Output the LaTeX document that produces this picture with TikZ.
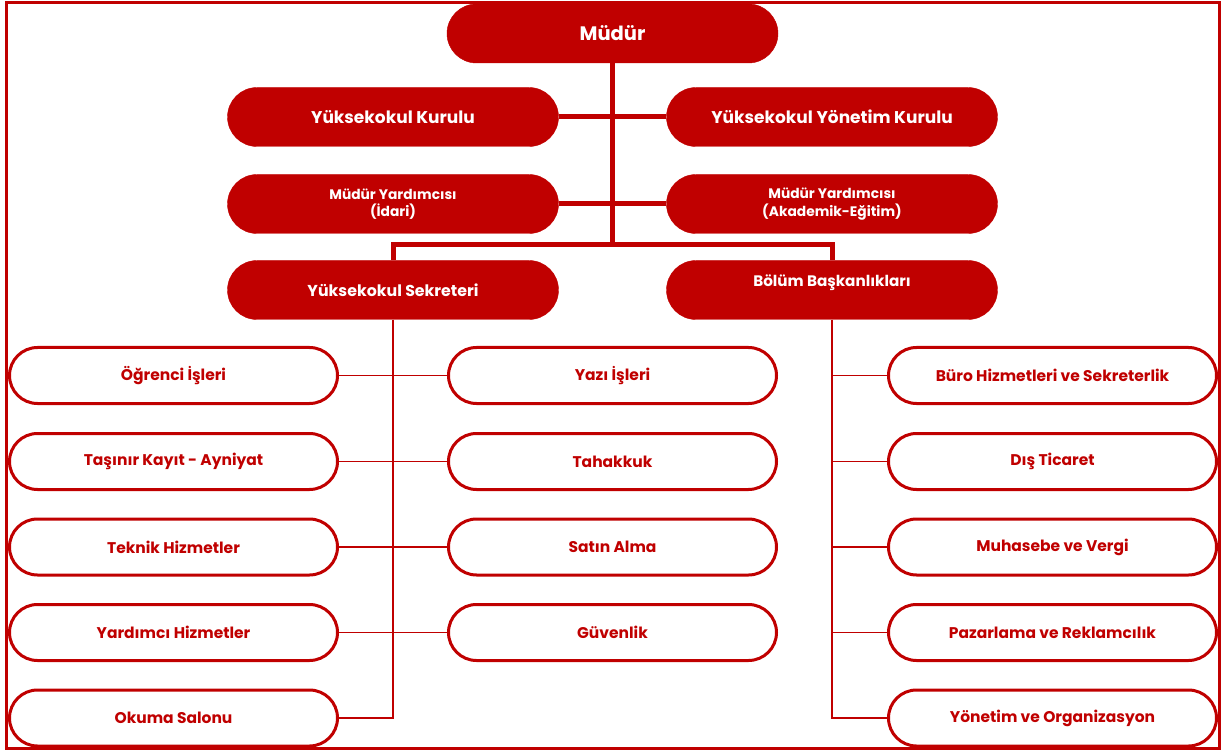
\documentclass[tikz,border=0pt]{standalone}
\usepackage{fontspec}
\setmainfont{Poppins}
\usetikzlibrary{positioning}
\definecolor{okulred}{RGB}{192,0,0}

\begin{document}
\begin{tikzpicture}[x=1pt,y=-1pt,
    head/.style={fill=okulred, draw=okulred, rounded corners=29.5pt, minimum width=331pt, minimum height=59pt, inner sep=0pt, text=white, align=center},
    unit/.style={fill=white, draw=okulred, line width=3pt, rounded corners=28pt, minimum width=328pt, minimum height=56pt, inner sep=0pt, text=okulred, font=\fontsize{15.5}{18}\selectfont\bfseries},
    bus/.style={okulred, line width=5pt},
    twig/.style={okulred, line width=1.5pt}]
    \useasboundingbox (0,0) rectangle (1224,751);
    \draw[okulred, line width=3pt] (6,3) rectangle (1219,748); % frame

    % top of the chart
    \node[head, font=\fontsize{19.5}{23}\selectfont\bfseries] (mudur) at (612.5,33.5) {Müdür};
    \node[head, font=\fontsize{17}{20}\selectfont\bfseries] (kurul) at (393,117) {Yüksekokul Kurulu};
    \node[head, font=\fontsize{17}{20}\selectfont\bfseries] (ykurul) at (832,117) {Yüksekokul Yönetim Kurulu};
    \node[head, font=\fontsize{13.8}{17.5}\selectfont\bfseries] (idari) at (393,204) {Müdür Yardımcısı\\(İdari)};
    \node[head, font=\fontsize{13.8}{17.5}\selectfont\bfseries] (akad) at (832,204) {Müdür Yardımcısı\\(Akademik-Eğitim)};
    \node[head, font=\fontsize{15.8}{19}\selectfont\bfseries] (sekreter) at (393,290) {Yüksekokul Sekreteri};
    \node[head, label={[text=white, font=\fontsize{15.2}{18}\selectfont\bfseries, yshift=7pt]center:Bölüm Başkanlıkları}] (bolum) at (832,290) {};
    \coordinate (bus) at (612.5,245); % branch point

    % units under the secretary
    \node[unit] (ogrenci) at (173.5,375.5) {Öğrenci İşleri};
    \node[unit] (tasinir) at (173.5,461.5) {Taşınır Kayıt - Ayniyat};
    \node[unit] (teknik) at (173.5,547) {Teknik Hizmetler};
    \node[unit] (yardimci) at (173.5,632.5) {Yardımcı Hizmetler};
    \node[unit] (okuma) at (173.5,718) {Okuma Salonu};
    \node[unit] (yazi) at (612.5,375.5) {Yazı İşleri};
    \node[unit] (tahakkuk) at (612.5,461.5) {Tahakkuk};
    \node[unit] (satin) at (612.5,547) {Satın Alma};
    \node[unit] (guvenlik) at (612.5,632.5) {Güvenlik};

    % departments
    \node[unit] (buro) at (1052.5,375.5) {Büro Hizmetleri ve Sekreterlik};
    \node[unit] (dis) at (1052.5,461.5) {Dış Ticaret};
    \node[unit] (muhasebe) at (1052.5,547) {Muhasebe ve Vergi};
    \node[unit] (pazarlama) at (1052.5,632.5) {Pazarlama ve Reklamcılık};
    \node[unit] (yonetim) at (1052.5,718) {Yönetim ve Organizasyon};

    \draw[bus] (mudur.south) -- (bus); % trunk
    \draw[bus] (kurul.east) -- (ykurul.west); % boards
    \draw[bus] (idari.east) -- (akad.west); % deputies
    \draw[bus] (sekreter.north) |- (bus) -| (bolum.north); % split
    \draw[twig] (sekreter.south) |- (okuma.east); % secretary line
    \draw[twig] (ogrenci.east) -- (yazi.west);
    \draw[twig] (tasinir.east) -- (tahakkuk.west);
    \draw[twig] (teknik.east) -- (satin.west);
    \draw[twig] (yardimci.east) -- (guvenlik.west);
    \draw[twig] (bolum.south) |- (yonetim.west); % department line
    \draw[twig] (bolum.south |- buro.west) -- (buro.west);
    \draw[twig] (bolum.south |- dis.west) -- (dis.west);
    \draw[twig] (bolum.south |- muhasebe.west) -- (muhasebe.west);
    \draw[twig] (bolum.south |- pazarlama.west) -- (pazarlama.west);
  \end{tikzpicture}
\end{document}
